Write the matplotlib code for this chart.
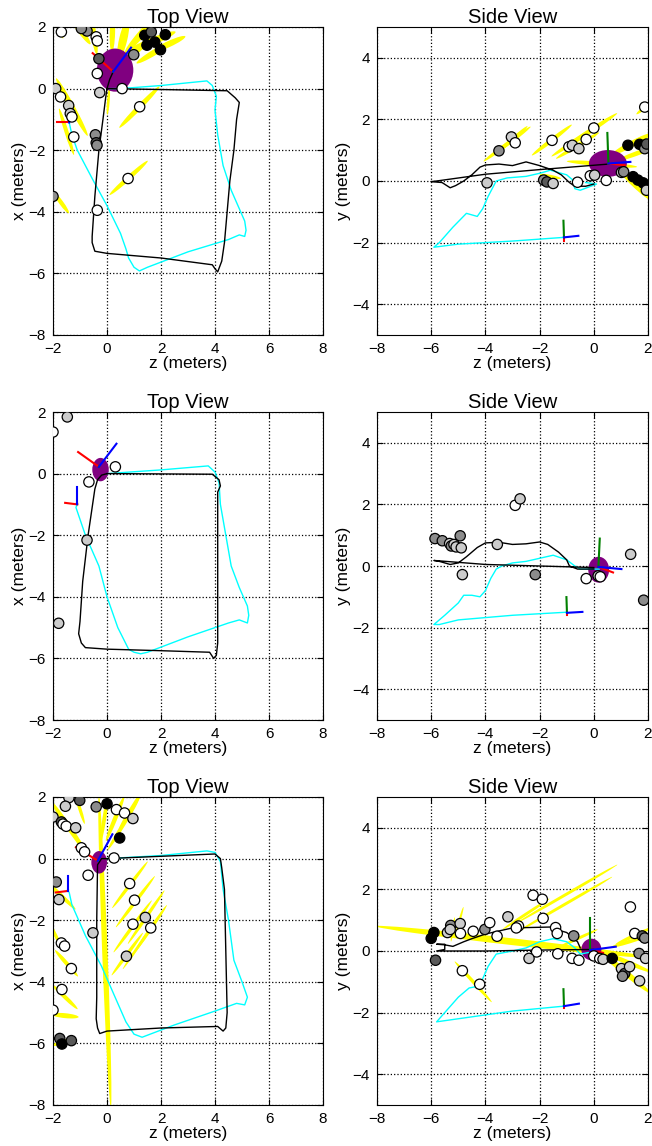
import matplotlib
matplotlib.use("Agg")
import matplotlib.pyplot as plt
from matplotlib.patches import Ellipse

plt.rcParams['font.family'] = ['Liberation Sans', 'DejaVu Sans']

# ---------------- panel 1 (row 1) ----------------
top1_black = [(0.0, 0.0), (2.0, -0.03), (4.45, -0.07), (4.75, -0.3), (4.9, -0.45), (4.8, -1.0),
              (4.7, -2.0), (4.55, -3.0), (4.45, -4.0), (4.35, -5.0), (4.25, -5.6), (4.1, -5.95),
              (4.0, -5.85), (3.9, -5.72), (2.0, -5.5), (0.0, -5.35), (-0.45, -5.28), (-0.55, -5.0),
              (-0.55, -4.8), (-0.45, -3.5), (-0.3, -2.0), (-0.15, -1.0), (-0.05, -0.3), (0.0, 0.0),
              (0.1, 0.3), (0.23, 0.55)]
top1_cyan = [(-1.4, -1.1), (-1.3, -1.5), (-1.1, -2.0), (-0.5, -3.0), (0.0, -3.8), (0.5, -4.7),
             (0.7, -5.2), (0.8, -5.5), (1.0, -5.8), (1.2, -5.92), (1.5, -5.8), (3.0, -5.3),
             (4.5, -4.9), (4.9, -4.75), (5.1, -4.8), (5.15, -4.6), (5.1, -4.3), (4.9, -3.9),
             (4.6, -3.3), (4.3, -2.5), (4.1, -1.5), (4.0, -0.7), (4.05, -0.25), (3.9, 0.1),
             (3.7, 0.25), (2.0, 0.1), (0.5, 0.0), (0.1, 0.0)]
top1_pts = [(-1.69, 1.84), (-0.74, 1.87), (-0.95, 1.95), (-0.40, 1.68), (-0.36, 1.55), (1.40, 1.73),
            (1.64, 1.84), (2.16, 1.75), (1.48, 1.41), (1.77, 1.51), (1.98, 1.26), (0.99, 1.10),
            (-0.30, 0.97), (-0.36, 0.49), (-0.27, -0.13), (0.56, 0.0), (-1.9, 0.0), (-1.72, -0.27),
            (-1.42, -0.55), (-1.36, -0.81), (-1.30, -0.92), (-1.23, -1.57), (-0.43, -1.50),
            (-0.40, -1.76), (-0.37, -1.84), (1.21, -0.59), (0.78, -2.92), (-0.36, -3.95), (-2.0, -3.5)]
top1_shade = [1.0, 0.55, 0.55, 1.0, 1.0, 0.0, 0.35, 0.0, 0.0, 0.0, 0.0, 0.55,
              0.35, 1.0, 0.8, 1.0, 0.8, 1.0, 0.8, 0.8, 1.0, 1.0, 0.55, 0.35, 0.55, 1.0, 1.0, 1.0, 0.55]
# yellow uncertainty ellipses: centre, length, thickness, angle
top1_ell = [(1.2, -0.6, 2.0, 0.18, 42), (0.8, -2.9, 1.8, 0.16, 38), (-1.7, -3.7, 0.9, 0.15, -50),
            (-1.3, -0.6, 2.2, 0.2, -58), (-1.5, -1.4, 1.6, 0.15, -70), (1.6, 1.5, 2.0, 0.25, 20),
            (1.8, 1.2, 1.6, 0.2, 28), (1.3, 1.8, 1.8, 0.25, 45), (0.6, 1.6, 1.4, 0.3, 75),
            (0.2, 1.8, 1.2, 0.2, 88), (-0.5, 1.8, 1.4, 0.2, 100), (-1.0, 1.9, 1.2, 0.2, 130),
            (-1.75, 1.85, 0.5, 0.1, -60), (0.05, -0.4, 0.9, 0.1, 85), (0.9, 1.1, 1.0, 0.2, 30),
            (2.3, 1.45, 1.3, 0.2, 22)]
top1_robot = (0.3, 0.6, 1.35, 1.4)
top1_frames = [((0.23, 0.55), (-0.53, 1.15), (0.23, 0.57), (0.89, 1.33)),
               ((-1.4, -1.1), (-1.85, -1.1), (-1.4, -1.1), (-1.38, -1.0))]

side1_black = [(0.55, 0.55), (-2.0, 0.37), (-4.0, 0.22), (-5.8, 0.0), (-6.0, -0.02), (-5.6, -0.05),
               (-5.3, -0.22), (-5.1, -0.15), (-4.8, 0.0), (-4.5, 0.2), (-4.2, 0.45), (-4.0, 0.52),
               (-3.5, 0.55), (-3.0, 0.5), (-2.5, 0.62), (-2.0, 0.5), (-1.5, 0.35), (-1.2, 0.2),
               (-0.9, -0.05), (-0.7, -0.17), (-0.3, -0.17), (0.0, -0.1)]
side1_cyan = [(-1.1, -1.83), (-3.0, -1.95), (-5.0, -2.05), (-5.9, -2.15), (-5.7, -2.0), (-5.2, -1.5),
              (-4.7, -1.05), (-4.5, -1.1), (-4.3, -1.15), (-4.1, -0.9), (-3.9, -0.5), (-3.6, 0.0),
              (-3.2, 0.1), (-2.5, 0.15), (-2.0, 0.25), (-1.6, 0.35), (-1.0, 0.2), (-0.8, 0.05),
              (-0.7, -0.25), (-0.5, -0.3), (-0.2, -0.2), (0.1, -0.1), (-0.3, -0.05)]
side1_pts = [(-3.94, -0.06), (-3.5, 0.98), (-3.04, 1.43), (-2.90, 1.24), (-1.54, 1.32), (-0.92, 1.11),
             (-0.79, 1.16), (-0.55, 1.05), (-0.28, 1.35), (0.0, 1.72), (-1.85, 0.03), (-1.73, -0.03),
             (-1.5, -0.08), (-0.6, -0.04), (-0.13, 0.17), (0.03, 0.19), (0.46, 0.02), (1.02, 0.28),
             (1.1, 0.3), (1.26, 1.16), (1.69, 1.19), (1.88, 1.05), (1.95, 1.2), (1.45, 0.14),
             (1.63, 0.03), (1.82, -0.06), (1.97, -0.15), (1.88, 2.4), (1.94, -0.3)]
side1_shade = [0.8, 0.55, 0.8, 1.0, 1.0, 1.0, 0.8, 0.8, 1.0, 1.0, 0.55, 0.35,
               0.8, 1.0, 1.0, 0.8, 1.0, 0.8, 0.55, 0.0, 0.0, 0.55, 0.35, 0.0,
               0.0, 0.0, 0.0, 1.0, 0.8]
side1_ell = [(-3.2, 1.2, 2.07, 0.14, 33), (-3.0, 1.35, 1.4, 0.12, 38), (-1.55, 1.33, 1.78, 0.14, 34),
             (-0.35, 1.5, 2.8, 0.16, 30), (-0.6, 1.15, 1.8, 0.14, 28), (0.3, 0.55, 2.6, 0.15, -4),
             (1.4, 1.2, 1.6, 0.2, 25), (1.6, 0.9, 1.6, 0.15, 18), (1.5, -0.1, 1.6, 0.2, -40),
             (1.9, 2.4, 0.8, 0.12, 35), (-1.6, 0.15, 0.8, 0.1, -10)]
side1_robot = (0.52, 0.57, 1.4, 0.87)
side1_frames = [((0.54, 0.57), (1.14, 0.51), (0.5, 1.56), (1.35, 0.62)),
                ((-1.1, -1.83), (-1.1, -1.95), (-1.12, -1.29), (-0.57, -1.78))]

# ---------------- panel 2 (row 2) ----------------
top2_black = [(0.0, 0.0), (3.9, -0.02), (4.15, -0.2), (4.2, -0.4), (4.1, -0.6), (4.1, -2.0),
              (4.1, -4.0), (4.1, -5.5), (4.05, -5.9), (3.95, -6.0), (3.8, -5.8), (2.0, -5.75),
              (0.0, -5.7), (-0.8, -5.65), (-0.95, -5.5), (-1.05, -5.2), (-1.0, -4.8), (-0.9, -3.5),
              (-0.7, -2.0), (-0.45, -0.5), (-0.35, -0.2), (-0.2, -0.05), (0.0, 0.0)]
top2_cyan = [(-1.1, -1.0), (-1.15, -1.1), (-0.8, -2.0), (-0.3, -3.0), (0.0, -4.0), (0.4, -5.0),
             (0.8, -5.7), (1.0, -5.8), (1.25, -5.85), (1.5, -5.8), (3.0, -5.3), (4.5, -4.85),
             (4.9, -4.75), (5.2, -4.85), (5.25, -4.6), (5.2, -4.3), (4.9, -3.7), (4.6, -3.0),
             (4.4, -2.0), (4.2, -1.0), (4.15, -0.3), (4.0, 0.05), (3.75, 0.25), (2.0, 0.12), (0.0, 0.0)]
top2_pts = [(-1.47, 1.84), (-2.0, 1.35), (0.31, 0.22), (-0.67, -0.27), (-0.74, -2.16), (-1.79, -4.86)]
top2_shade = [0.8, 1.0, 1.0, 1.0, 0.8, 0.8]
top2_ell = []
top2_robot = (-0.24, 0.13, 0.61, 0.76)
top2_frames = [((-0.3, 0.22), (-1.07, 0.70), (-0.28, 0.25), (0.35, 0.97)),
               ((-1.1, -1.0), (-1.55, -0.95), (-1.1, -0.97), (-1.1, -0.45))]

side2_black = [(0.0, -0.05), (-2.0, 0.0), (-4.0, 0.05), (-5.9, 0.18), (-5.7, 0.15), (-5.5, 0.1),
               (-5.3, 0.05), (-5.0, 0.1), (-4.7, 0.3), (-4.3, 0.6), (-4.0, 0.75), (-3.5, 0.77),
               (-3.0, 0.7), (-2.5, 0.72), (-2.0, 0.78), (-1.7, 0.7), (-1.3, 0.45), (-1.0, 0.2),
               (-0.9, 0.0), (-0.6, -0.1), (0.0, -0.1)]
side2_cyan = [(-1.0, -1.5), (-3.0, -1.6), (-5.0, -1.75), (-5.7, -1.9), (-5.9, -1.9), (-5.5, -1.6),
              (-5.0, -1.2), (-4.8, -0.95), (-4.5, -0.95), (-4.2, -1.0), (-4.0, -0.8), (-3.8, -0.4),
              (-3.6, -0.1), (-3.4, 0.0), (-3.0, 0.1), (-2.5, 0.15), (-2.0, 0.25), (-1.5, 0.35),
              (-1.0, 0.2), (-0.7, 0.0), (-0.5, -0.1), (0.0, -0.1), (0.2, -0.1)]
side2_pts = [(-5.86, 0.89), (-5.59, 0.82), (-5.32, 0.73), (-5.26, 0.65), (-5.16, 0.70), (-5.08, 0.62),
             (-4.93, 0.98), (-4.89, 0.59), (-4.85, -0.28), (-3.56, 0.70), (-2.9, 1.97), (-2.72, 2.18),
             (-2.16, -0.28), (-0.28, -0.41), (0.16, -0.32), (0.24, -0.35), (1.36, 0.38), (1.84, -1.11)]
side2_shade = [0.55, 0.55, 0.8, 0.55, 0.8, 0.8, 0.55, 0.8, 0.8, 0.8, 1.0, 0.8,
               0.55, 1.0, 0.8, 1.0, 0.8, 0.55]
side2_ell = []
side2_robot = (0.18, -0.12, 0.77, 0.84)
side2_frames = [((0.17, -0.03), (0.71, -0.21), (0.22, 0.89), (1.02, -0.1)),
                ((-0.99, -1.52), (-0.99, -1.6), (-1.01, -1.01), (-0.42, -1.49))]

# ---------------- panel 3 (row 3) ----------------
top3_black = [(0.0, 0.0), (4.0, 0.15), (4.2, 0.0), (4.25, -0.3), (4.35, -1.0), (4.4, -3.0),
              (4.45, -5.0), (4.4, -5.5), (4.3, -5.6), (4.1, -5.45), (2.0, -5.5), (0.0, -5.6),
              (-0.27, -5.68), (-0.35, -5.5), (-0.4, -5.2), (-0.38, -4.5), (-0.38, -2.0),
              (-0.35, -0.2), (-0.2, 0.0), (0.0, 0.0)]
top3_cyan = [(-1.4, -1.1), (-1.3, -1.5), (-0.8, -2.5), (-0.2, -3.5), (0.3, -4.5), (0.7, -5.3),
             (1.0, -5.7), (1.3, -5.8), (2.5, -5.4), (4.0, -4.95), (4.8, -4.7), (5.1, -4.75),
             (5.2, -4.5), (5.0, -4.0), (4.7, -3.3), (4.5, -2.0), (4.3, -1.0), (4.2, -0.1),
             (4.0, 0.2), (3.7, 0.25), (2.0, 0.1), (0.0, 0.0)]
top3_pts = [(-1.41, 1.98), (-1.01, 1.89), (-1.54, 1.70), (-0.40, 1.68), (0.0, 1.78), (0.35, 1.59),
            (0.65, 1.48), (0.96, 1.30), (-2.0, 1.35), (-1.69, 1.19), (-1.63, 1.12), (-1.51, 1.05),
            (-1.16, 1.0), (0.47, 0.67), (-0.95, 0.35), (-0.83, 0.22), (0.26, 0.02), (-0.70, -0.54),
            (-1.88, -0.76), (-1.78, -1.33), (0.84, -0.81), (1.02, -1.35), (1.42, -1.91), (0.96, -2.13),
            (1.62, -2.25), (-0.52, -2.41), (-1.69, -2.74), (-1.57, -2.84), (0.72, -3.17),
            (-1.32, -3.57), (-1.67, -4.25), (-2.0, -4.92), (-1.75, -5.84), (-1.67, -6.02), (-1.32, -5.91)]
top3_shade = [0.8, 0.35, 0.8, 0.55, 0.0, 1.0, 1.0, 0.8, 0.8, 0.35, 1.0, 1.0,
              0.8, 0.0, 1.0, 1.0, 1.0, 1.0, 0.55, 0.8, 1.0, 1.0, 0.8, 1.0,
              1.0, 0.8, 1.0, 1.0, 0.8, 1.0, 1.0, 1.0, 0.35, 0.0, 0.35]
top3_ell = [(-0.08, -3.0, 10.2, 0.2, -87.5), (0.85, -0.85, 2.0, 0.12, 49), (1.05, -1.4, 2.2, 0.12, 49),
            (1.45, -1.9, 2.2, 0.12, 52), (0.95, -2.2, 2.2, 0.12, 50), (1.6, -2.3, 2.0, 0.12, 52),
            (0.75, -3.1, 1.8, 0.12, 50), (1.2, -2.8, 2.0, 0.1, 52), (-1.4, 1.0, 2.2, 0.18, -52),
            (-1.7, -1.2, 1.4, 0.14, -40), (-1.5, -3.4, 1.2, 0.14, -45), (-1.55, -4.5, 1.2, 0.14, -40),
            (-1.55, -5.1, 1.0, 0.16, -5), (-1.6, -5.95, 0.9, 0.14, 15), (0.3, 1.3, 1.6, 0.16, 65),
            (0.6, 1.1, 2.0, 0.14, 55), (-0.1, 1.3, 1.6, 0.14, 80), (0.9, 1.6, 1.6, 0.14, 55),
            (-1.0, 1.6, 1.0, 0.12, 110), (-1.9, -2.5, 1.2, 0.12, -60)]
top3_robot = (-0.29, -0.12, 0.58, 0.73)
top3_frames = [((-0.34, -0.07), (-1.15, 0.37), (-0.32, -0.04), (0.2, 0.79)),
               ((-1.45, -1.05), (-1.9, -1.1), (-1.45, -1.02), (-1.45, -0.55))]

side3_black = [(0.0, 0.05), (-2.0, 0.03), (-4.0, 0.0), (-5.5, 0.0), (-5.8, 0.0), (-5.5, 0.05),
               (-5.5, 0.22), (-5.8, 0.22), (-5.5, 0.2), (-5.2, 0.15), (-4.8, 0.3), (-4.5, 0.4),
               (-4.0, 0.55), (-3.5, 0.65), (-3.0, 0.75), (-2.0, 0.77), (-1.5, 0.78), (-1.2, 0.65),
               (-1.0, 0.6), (-0.8, 0.45), (-0.6, 0.3), (-0.5, 0.1)]
side3_cyan = [(-1.1, -1.79), (-3.0, -1.95), (-5.0, -2.2), (-5.8, -2.3), (-5.5, -2.0), (-5.0, -1.5),
              (-4.6, -1.2), (-4.3, -1.15), (-4.1, -0.9), (-3.9, -0.5), (-3.6, -0.1), (-3.0, 0.0),
              (-2.5, 0.1), (-2.0, 0.3), (-1.5, 0.4), (-1.0, 0.3), (-0.7, 0.1), (-0.5, -0.1), (-0.2, -0.05)]
side3_pts = [(-6.0, 0.41), (-5.9, 0.6), (-5.84, -0.30), (-5.4, 0.6), (-5.28, 0.83), (-5.3, 0.7),
             (-4.93, 0.89), (-4.92, 0.57), (-4.45, 0.64), (-4.02, 0.70), (-3.84, 0.92), (-3.57, 0.48),
             (-3.17, 1.11), (-2.78, 0.81), (-2.86, 0.75), (-2.24, 1.81), (-1.9, 1.68), (-1.87, 1.06),
             (-1.41, 0.76), (-1.35, 0.57), (-0.74, 0.49), (-2.11, -0.03), (-2.39, -0.24), (-1.33, -0.09),
             (-0.8, -0.24), (-0.55, -0.30), (0.0, -0.16), (0.22, -0.24), (0.34, -0.27), (0.68, -0.24),
             (1.02, -0.57), (1.14, -0.73), (1.06, -0.82), (1.32, -0.51), (1.69, -0.97), (1.35, 1.43),
             (1.51, 0.57), (1.79, 0.49), (1.88, 0.42), (1.67, -0.08), (1.91, -0.24), (-4.85, -0.64),
             (-4.21, -1.08)]
side3_shade = [0.0, 0.0, 0.35, 0.8, 0.55, 0.8, 0.8, 1.0, 1.0, 0.55, 1.0, 1.0,
               0.8, 1.0, 1.0, 1.0, 1.0, 1.0, 1.0, 1.0, 0.55, 1.0, 0.8, 1.0,
               1.0, 1.0, 1.0, 1.0, 0.8, 0.0, 0.8, 0.35, 0.55, 0.8, 0.8, 1.0,
               1.0, 0.35, 0.55, 0.55, 0.8, 1.0, 1.0]
side3_ell = [(-3.0, 0.3, 10.2, 0.22, -5.7), (-1.0, 1.85, 4.2, 0.1, 27), (-1.1, 1.5, 4.0, 0.1, 27),
             (-2.5, 1.2, 2.0, 0.1, 30), (-4.45, -1.0, 1.9, 0.12, -44), (-4.95, 1.0, 0.9, 0.08, 72),
             (-5.2, 0.7, 0.8, 0.08, 80), (1.1, -0.65, 2.4, 0.2, -36), (1.2, -0.35, 2.0, 0.15, -20),
             (1.5, 0.5, 1.5, 0.12, 22), (-0.6, 0.4, 1.6, 0.1, 22), (1.3, 0.3, 1.4, 0.12, 15)]
side3_robot = (-0.09, 0.05, 0.74, 0.7)
side3_frames = [((-0.13, 0.03), (0.34, -0.06), (-0.13, 1.08), (0.81, 0.14)),
                ((-1.1, -1.79), (-1.1, -1.85), (-1.12, -1.24), (-0.55, -1.71))]

rows = [
    (top1_black, top1_cyan, top1_pts, top1_shade, top1_ell, top1_robot, top1_frames,
     side1_black, side1_cyan, side1_pts, side1_shade, side1_ell, side1_robot, side1_frames),
    (top2_black, top2_cyan, top2_pts, top2_shade, top2_ell, top2_robot, top2_frames,
     side2_black, side2_cyan, side2_pts, side2_shade, side2_ell, side2_robot, side2_frames),
    (top3_black, top3_cyan, top3_pts, top3_shade, top3_ell, top3_robot, top3_frames,
     side3_black, side3_cyan, side3_pts, side3_shade, side3_ell, side3_robot, side3_frames),
]


def draw(ax, black, cyan, pts, shade, ells, robot, frames):
    for cx, cy, ln, th, ang in ells:
        ax.add_patch(Ellipse((cx, cy), ln, th, angle=ang, facecolor='yellow',
                             edgecolor='none', zorder=2))
    ax.add_patch(Ellipse((robot[0], robot[1]), robot[2], robot[3], facecolor='purple',
                         edgecolor='none', zorder=3))
    ax.plot([p[0] for p in cyan], [p[1] for p in cyan], color='cyan', lw=1.0, zorder=4)
    ax.plot([p[0] for p in black], [p[1] for p in black], color='black', lw=1.0, zorder=4)
    for o, r, g, b in frames:
        ax.plot([o[0], r[0]], [o[1], r[1]], color='red', lw=1.5, zorder=5)
        ax.plot([o[0], g[0]], [o[1], g[1]], color='green', lw=1.5, zorder=5)
        ax.plot([o[0], b[0]], [o[1], b[1]], color='blue', lw=1.5, zorder=5)
    cols = [(s, s, s) for s in shade]
    ax.scatter([p[0] for p in pts], [p[1] for p in pts], s=55, c=cols, edgecolors='black',
               linewidths=0.9, zorder=6)


def style(ax, title, ylabel, xlim, ylim, yticks):
    ax.set_xlim(xlim)
    ax.set_ylim(ylim)
    ax.set_xticks(range(xlim[0], xlim[1] + 1, 2))
    ax.set_yticks(yticks)
    ax.grid(True, linestyle=':', color='black', linewidth=0.9)
    ax.set_axisbelow(True)
    ax.tick_params(direction='in', top=True, right=True, labelsize=11, length=4, pad=5)
    ax.set_title(title, fontsize=14.5, pad=3)
    ax.set_xlabel('z (meters)', fontsize=12.5, labelpad=0)
    ax.set_ylabel(ylabel, fontsize=12.5, labelpad=1)


W, H = 652, 1146
fig = plt.figure(figsize=(W / 100, H / 100), dpi=100)
tops = [27, 412, 797]
for top, row in zip(tops, rows):
    ax1 = fig.add_axes([53 / W, (H - top - 308) / H, 270 / W, 308 / H])
    draw(ax1, *row[:7])
    style(ax1, 'Top View', 'x (meters)', (-2, 8), (-8, 2), range(-8, 3, 2))
    ax2 = fig.add_axes([377 / W, (H - top - 308) / H, 271 / W, 308 / H])
    draw(ax2, *row[7:])
    style(ax2, 'Side View', 'y (meters)', (-8, 2), (-5, 5), range(-4, 5, 2))

fig.savefig('out.png', dpi=100)
